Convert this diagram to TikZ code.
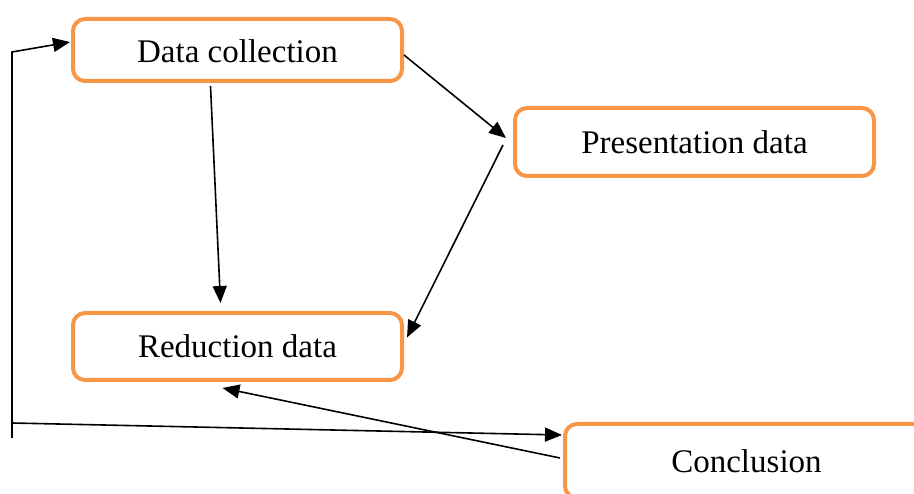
\documentclass[tikz,border=0pt]{standalone}
\usepackage{fontspec}
\setmainfont{Liberation Serif}
\usetikzlibrary{arrows.meta,positioning}
\definecolor{boxorange}{HTML}{F79646}
\tikzset{
  stepbox/.style={draw=boxorange, line width=4pt, rounded corners=12pt, fill=white,
    inner sep=0pt, font=\fontsize{33}{39}\selectfont},
  flow/.style={line width=1.6pt, -{Triangle[length=17pt,width=14pt]}}
}

\begin{document}
\begin{tikzpicture}[x=1pt,y=-1pt]
        \clip (0,0) rectangle (914,494);
        \node[stepbox, minimum width=329pt, minimum height=62pt, text height=32pt, text depth=7pt] (dc) at (237.5,50) {Data collection};
        \node[stepbox, minimum width=359pt, minimum height=68pt] (pd) at (694.5,142) {Presentation data};
        \node[stepbox, minimum width=329pt, minimum height=67pt] (rd) at (237.5,346.5) {Reduction data};
        \node[stepbox, minimum width=363pt, minimum height=74pt] (cc) at (746.5,461) {Conclusion};
        \coordinate (lt) at (12,52);
        \coordinate (lm) at (12,423);
        \coordinate (lb) at (12,438);
        \draw [flow] ([xshift=-27pt,yshift=-3pt]dc.south) -- ([xshift=-17pt,yshift=8pt]rd.north);
        \draw [flow] ([yshift=-5pt]dc.east) -- ([xshift=-7pt,yshift=4pt]pd.west);
        \draw [flow] ([xshift=-10pt,yshift=-3pt]pd.west) -- ([xshift=3pt,yshift=9pt]rd.east);
        \draw [flow] ([xshift=-3pt,yshift=3pt]cc.west) -- ([xshift=-15pt,yshift=-6pt]rd.south);
        \draw [flow] (lb) -- (lt) -- ([xshift=-1pt,yshift=8pt]dc.west);
        \draw [flow] (lm) -- ([xshift=-1pt,yshift=26pt]cc.west);
\end{tikzpicture}
\end{document}
